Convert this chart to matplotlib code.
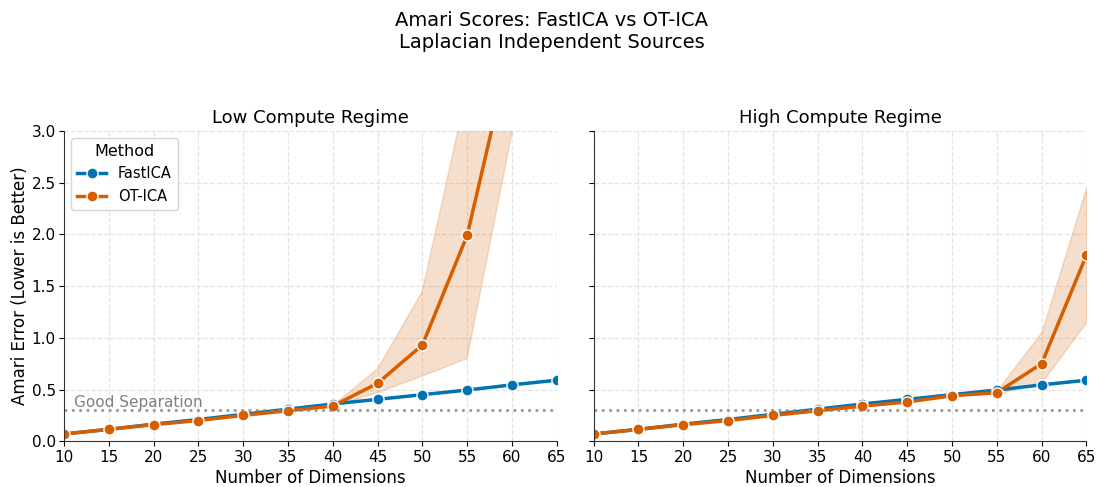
import matplotlib.pyplot as plt
import numpy as np

# Dimensions evaluated
dims = [10, 15, 20, 25, 30, 35, 40, 45, 50, 55, 60, 65]

# Low compute regime: mean Amari error and band (lower/upper)
low_fast = [0.07, 0.115, 0.165, 0.21, 0.26, 0.31, 0.36, 0.405, 0.45, 0.495, 0.545, 0.59]
low_ot = [0.07, 0.115, 0.16, 0.20, 0.25, 0.295, 0.34, 0.56, 0.93, 1.99, 3.85, 6.0]
low_ot_lo = [0.065, 0.11, 0.155, 0.195, 0.245, 0.29, 0.335, 0.47, 0.63, 0.80, 2.98, 4.5]
low_ot_hi = [0.075, 0.12, 0.165, 0.205, 0.255, 0.30, 0.345, 0.70, 1.45, 3.41, 4.8, 7.5]

# High compute regime
high_fast = [0.07, 0.115, 0.165, 0.21, 0.26, 0.31, 0.36, 0.405, 0.45, 0.495, 0.545, 0.59]
high_ot = [0.07, 0.115, 0.16, 0.20, 0.25, 0.295, 0.34, 0.38, 0.44, 0.47, 0.75, 1.80]
high_ot_lo = [0.065, 0.11, 0.155, 0.195, 0.245, 0.29, 0.335, 0.375, 0.435, 0.46, 0.57, 1.155]
high_ot_hi = [0.075, 0.12, 0.165, 0.205, 0.255, 0.30, 0.345, 0.385, 0.445, 0.49, 1.06, 2.46]

GOOD_SEP = 0.3
BLUE = '#0173b2'
ORANGE = '#d55e00'

fig, axes = plt.subplots(1, 2, figsize=(11.03, 4.87), dpi=100, sharey=True)
fig.subplots_adjust(left=0.058, right=0.985, top=0.731, bottom=0.094, wspace=0.075)

panels = [
    (axes[0], 'Low Compute Regime', low_fast, low_ot, low_ot_lo, low_ot_hi),
    (axes[1], 'High Compute Regime', high_fast, high_ot, high_ot_lo, high_ot_hi),
]

for ax, title, fast, ot, lo, hi in panels:
    ax.grid(True, linestyle='--', color='#dddddd', alpha=0.8, linewidth=0.9)
    ax.set_axisbelow(True)
    ax.fill_between(dims, lo, hi, color=ORANGE, alpha=0.2, linewidth=1)
    ax.plot(dims, fast, color=BLUE, lw=2.5, marker='o', markersize=8,
            markeredgecolor='white', markeredgewidth=1, label='FastICA')
    ax.plot(dims, ot, color=ORANGE, lw=2.5, marker='o', markersize=8,
            markeredgecolor='white', markeredgewidth=1, label='OT-ICA')
    ax.axhline(GOOD_SEP, color='gray', linestyle=':', linewidth=2, alpha=0.8)
    ax.set_title(title, fontsize=13)
    ax.set_xlabel('Number of Dimensions', fontsize=12, labelpad=3)
    ax.set_xlim(10, 65)
    ax.set_ylim(0, 3.0)
    ax.set_xticks(np.arange(10, 66, 5))
    ax.tick_params(labelsize=11, pad=2.5)
    ax.spines['top'].set_visible(False)
    ax.spines['right'].set_visible(False)
    ax.spines['left'].set_color('#333333')
    ax.spines['bottom'].set_color('#333333')

axes[0].text(11.1, GOOD_SEP + 0.035, 'Good Separation', color='gray', fontsize=11)
axes[0].set_ylabel('Amari Error (Lower is Better)', fontsize=12, labelpad=2)
axes[0].legend(title='Method', loc='upper left', fontsize=10.5, title_fontsize=11.5)

fig.suptitle('Amari Scores: FastICA vs OT-ICA\nLaplacian Independent Sources',
             fontsize=14, y=0.978)

plt.savefig('out.png')
